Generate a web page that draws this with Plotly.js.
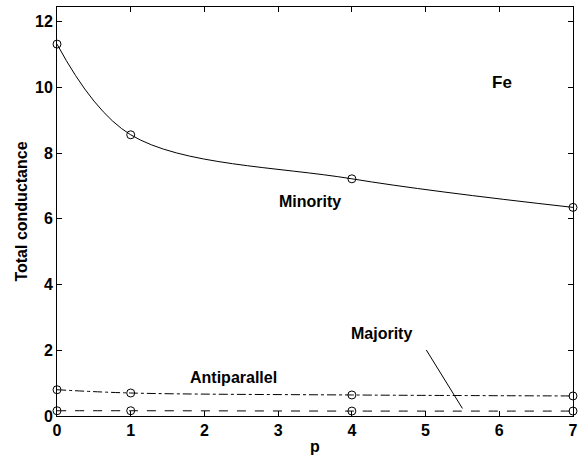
<!DOCTYPE html>
<html>
<head>
<meta charset="utf-8">
<script src="https://cdn.plot.ly/plotly-3.0.1.min.js"></script>
<style>html,body{margin:0;padding:0;background:#fff;}</style>
</head>
<body>
<div id="chart" style="width:585px;height:455px;"></div>
<script>
var p = [0, 1, 4, 7];
var minority = [11.32, 8.56, 7.22, 6.35];
var antiparallel = [0.80, 0.70, 0.64, 0.61];
var majority = [0.16, 0.16, 0.15, 0.15];
var xTicks = [0, 1, 2, 3, 4, 5, 6, 7];
var yTicks = [0, 2, 4, 6, 8, 10, 12];

var fontFam = 'Liberation Sans, Arial, sans-serif';
function tr(y, dash) {
  return {
    x: p, y: y, mode: 'lines+markers', type: 'scatter',
    line: {color: '#000', width: 1, shape: 'spline', dash: dash},
    marker: {symbol: 'circle-open', size: 8, color: '#000', line: {width: 1, color: '#000'}},
    hoverinfo: 'none', showlegend: false, cliponaxis: false
  };
}
var data = [tr(minority, 'solid'), tr(antiparallel, 'dashdot'), tr(majority, 'dash')];

var axisCommon = {
  showline: true, mirror: 'ticks', linecolor: '#000', linewidth: 1,
  ticks: 'inside', ticklen: 5, tickcolor: '#000', tickwidth: 1,
  showgrid: false, zeroline: false,
  tickfont: {family: fontFam, size: 16, color: '#000'}
};
var layout = {
  width: 585, height: 455,
  margin: {l: 57, r: 12, t: 7, b: 39},
  paper_bgcolor: '#fff', plot_bgcolor: '#fff',
  xaxis: Object.assign({}, axisCommon, {
    range: [0, 7], tickvals: xTicks, ticktext: xTicks.map(function(v){return '<b>' + v + '</b>';}),
    title: {text: '<b>p</b>', font: {family: fontFam, size: 16, color: '#000'}, standoff: 3}
  }),
  yaxis: Object.assign({}, axisCommon, {
    range: [0, 12.45], tickvals: yTicks, ticktext: yTicks.map(function(v){return '<b>' + v + '</b>';}),
    title: {text: '<b>Total conductance</b>', font: {family: fontFam, size: 16, color: '#000'}, standoff: 3}
  }),
  annotations: [
    {x: 6.03, y: 10.15, text: '<b>Fe</b>', showarrow: false, font: {family: fontFam, size: 17, color: '#000'}},
    {x: 3.43, y: 6.52, text: '<b>Minority</b>', showarrow: false, font: {family: fontFam, size: 16, color: '#000'}},
    {x: 2.39, y: 1.18, text: '<b>Antiparallel</b>', showarrow: false, font: {family: fontFam, size: 16, color: '#000'}},
    {x: 4.40, y: 2.52, text: '<b>Majority</b>', showarrow: false, font: {family: fontFam, size: 16, color: '#000'}}
  ],
  shapes: [
    {type: 'line', xref: 'x', yref: 'y', x0: 5.01, y0: 2.01, x1: 5.50, y1: 0.23, line: {color: '#000', width: 1}}
  ]
};
Plotly.newPlot('chart', data, layout, {displayModeBar: false, staticPlot: true});
</script>
</body>
</html>
